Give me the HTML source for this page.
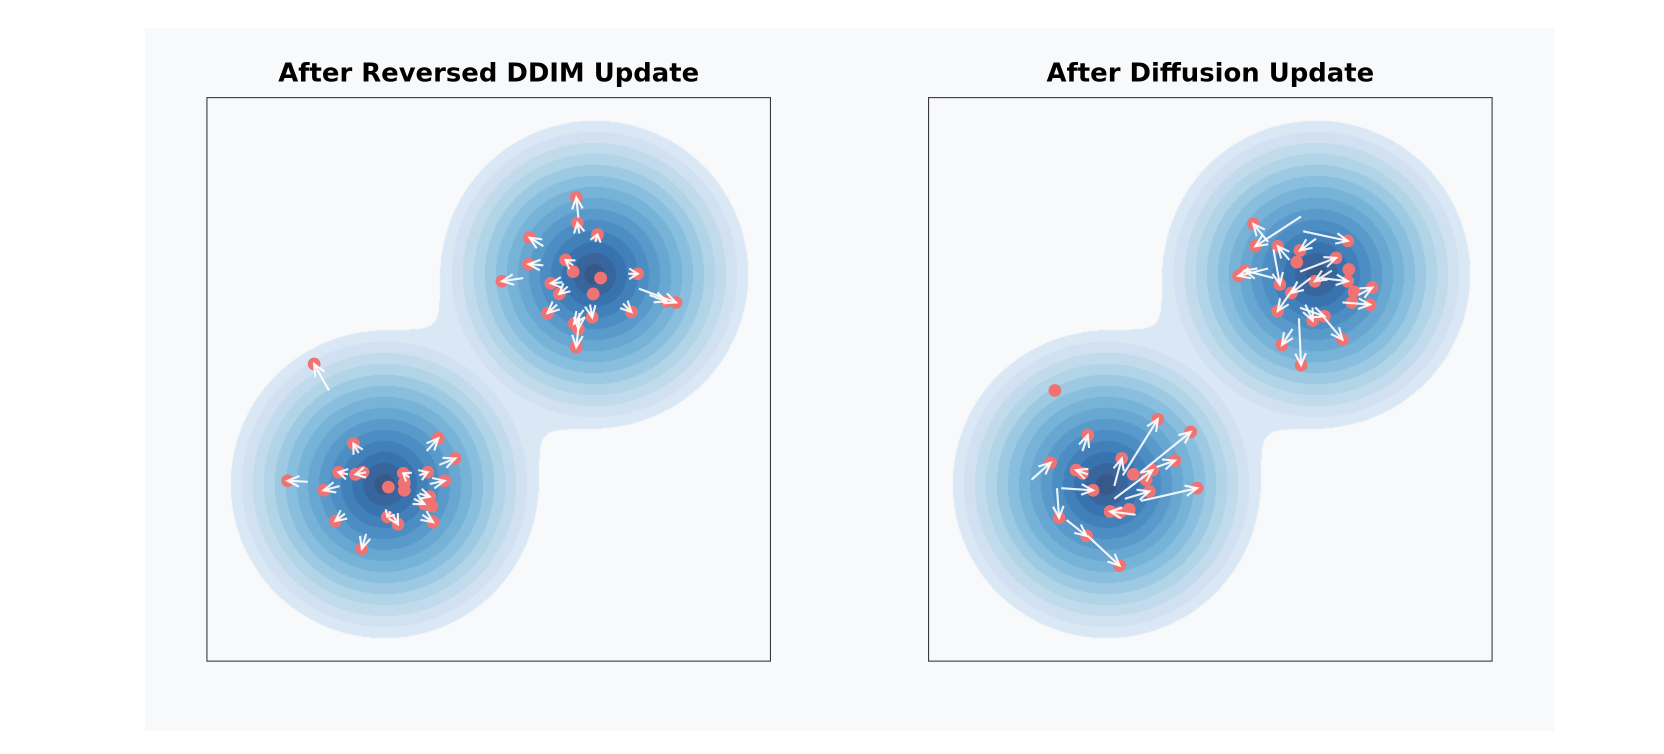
<!DOCTYPE html>
<html><head><meta charset="utf-8"><style>
html,body{margin:0;padding:0;background:#fff;}
#wrap{position:relative;width:1664px;height:754px;overflow:hidden;background:#fff;}
#panel{position:absolute;left:145px;top:28px;width:1409px;height:703px;background:#f8f9fb;}
canvas{position:absolute;}
svg{position:absolute;left:0;top:0;}
</style></head><body>
<div id="wrap">
<div id="panel"></div>
<canvas id="c1" width="563" height="563" style="left:207px;top:98px"></canvas>
<canvas id="c2" width="563" height="563" style="left:929px;top:98px"></canvas>
<svg id="s" width="1664" height="754" viewBox="0 0 1568 710.5" preserveAspectRatio="none">
<rect x="195" y="92" width="531" height="531" fill="none" stroke="#333" stroke-width="1"/>
<rect x="875" y="92" width="531" height="531" fill="none" stroke="#333" stroke-width="1"/>
<text x="460.5" y="77" text-anchor="middle" font-family="DejaVu Sans, Liberation Sans, sans-serif" font-weight="bold" font-size="24.4" fill="#000">After Reversed DDIM Update</text>
<text x="1140.5" y="77" text-anchor="middle" font-family="DejaVu Sans, Liberation Sans, sans-serif" font-weight="bold" font-size="24.4" fill="#000">After Diffusion Update</text>
<g id="pts"></g>
</svg>
</div>
<script>
(function(){
var stops=[[0,[247,251,255]],[.125,[222,235,247]],[.25,[198,219,239]],[.375,[158,202,225]],[.5,[107,174,214]],[.625,[66,146,198]],[.75,[33,113,181]],[.875,[8,81,156]],[1,[8,48,107]]];
function blues(t){for(var i=1;i<stops.length;i++){if(t<=stops[i][0]){var a=stops[i-1],b=stops[i],f=(t-a[0])/(b[0]-a[0]);return [0,1,2].map(function(j){return a[1][j]+(b[1][j]-a[1][j])*f;});}}return stops[8][1];}
var bg=[248,249,251],al=0.8,N=14,cols=[];
for(var k=0;k<=N;k++){var c=blues(0.12+0.88*k/N);cols.push([0,1,2].map(function(j){return Math.round(c[j]*al+bg[j]*(1-al));}));}
function draw(id){var cv=document.getElementById(id),ctx=cv.getContext('2d'),W=563,img=ctx.createImageData(W,W),d=img.data;
var s=531/W,sig=55,c1=[365,166],c2=[167,364];
for(var y=0;y<W;y++)for(var x=0;x<W;x++){var px=x*s,py=y*s;
var e1=Math.exp(-((px-c1[0])*(px-c1[0])+(py-c1[1])*(py-c1[1]))/(2*sig*sig));
var e2=Math.exp(-((px-c2[0])*(px-c2[0])+(py-c2[1])*(py-c2[1]))/(2*sig*sig));
var g=Math.min(1,e1+e2),r=sig*Math.sqrt(-2*Math.log(Math.max(g,1e-12)));
var rm=sig*Math.sqrt(-2*Math.log(Math.max(Math.max(e1,e2),1e-12)));
var col=bg;
if(r<145){var k=Math.min(N,Math.floor((145-rm)/10.4)+1);if(k<1)k=1;col=cols[k];}
var i=(y*W+x)*4;d[i]=col[0];d[i+1]=col[1];d[i+2]=col[2];d[i+3]=255;}
ctx.putImageData(img,0,0);}
draw('c1');draw('c2');
var P=[
[543,186,545,205],[544,210,546,220],[563,221,561,228],[499,224,512,232],[498,249,512,250],[473,265,493,262],[533,245,540,250],[540,256],[519,267,530,266],[527,277,535,270],[566,262],[559,277],[601,258,592,258],[637,285,602,272],[628,284,612,278],[595,294,587,286],[516,295,525,287],[558,299,556,287],[545,310,546,295],[543,327,546,300],[541,305,550,292],
[296,343,310,368],[333,418,338,427],[413,413,402,425],[429,432,414,438],[319,445,328,447],[335,447,345,445],[342,445],[380,446,386,450],[403,445,395,448],[271,453,290,454],[419,453,405,456],[366,459],[381,455],[381,462],[305,462,320,458],[405,468,395,465],[400,475,390,470],[407,477],[316,491,325,484],[365,487,368,482],[375,494,370,485],[408,492,398,485],[341,517,345,503],
[1181,211,1195,228],[1270,227,1228,218],[1204,232,1215,245],[1225,236,1240,225],[1183,232,1226,204],[1222,247],[1259,243,1225,256],[1271,254],[1167,260,1195,253],[1173,255,1200,262],[1239,265,1255,255],[1270,265,1245,262],[1206,268,1200,235],[1217,276,1235,262],[1293,271,1280,278],[1276,275],[1291,287,1265,285],[1274,285],[1204,293,1220,270],[1237,302,1230,287],[1248,298,1225,290],[1265,320,1245,296],[1208,325,1218,310],[1226,344,1224,300],
[994,368],[1091,395,1058,448],[1122,407,1075,445],[1025,410,1020,425],[990,436,972,452],[1057,432,1050,458],[1014,443,1025,447],[1020,446],[1107,434,1090,440],[1086,443,1050,470],[1068,447],[1080,452],[1083,463,1060,470],[1128,460,1075,472],[1030,462,1000,460],[998,488,996,460],[1046,482,1070,485],[1055,483],[1064,480],[1024,505,1005,490],[1055,533,1025,505]];
var g=document.getElementById('pts'),h='',a='';
P.forEach(function(p){h+='<circle cx="'+p[0]+'" cy="'+p[1]+'" r="6" fill="#f07373"/>';
if(p.length>2){var dx=p[0]-p[2],dy=p[1]-p[3],L=Math.sqrt(dx*dx+dy*dy);if(L<1)return;var ux=dx/L,uy=dy/L,hl=Math.min(11,L*0.9);
var bx=p[0]-ux*hl,by=p[1]-uy*hl,nx=-uy*5,ny=ux*5;
a+='<line x1="'+p[2]+'" y1="'+p[3]+'" x2="'+p[0]+'" y2="'+p[1]+'" stroke="#fff" stroke-width="2" opacity="0.9"/>';
a+='<polyline points="'+(bx+nx)+','+(by+ny)+' '+p[0]+','+p[1]+' '+(bx-nx)+','+(by-ny)+'" fill="none" stroke="#fff" stroke-width="2" opacity="0.9"/>';}});
g.innerHTML=h+a;
})();
</script>
</body></html>
